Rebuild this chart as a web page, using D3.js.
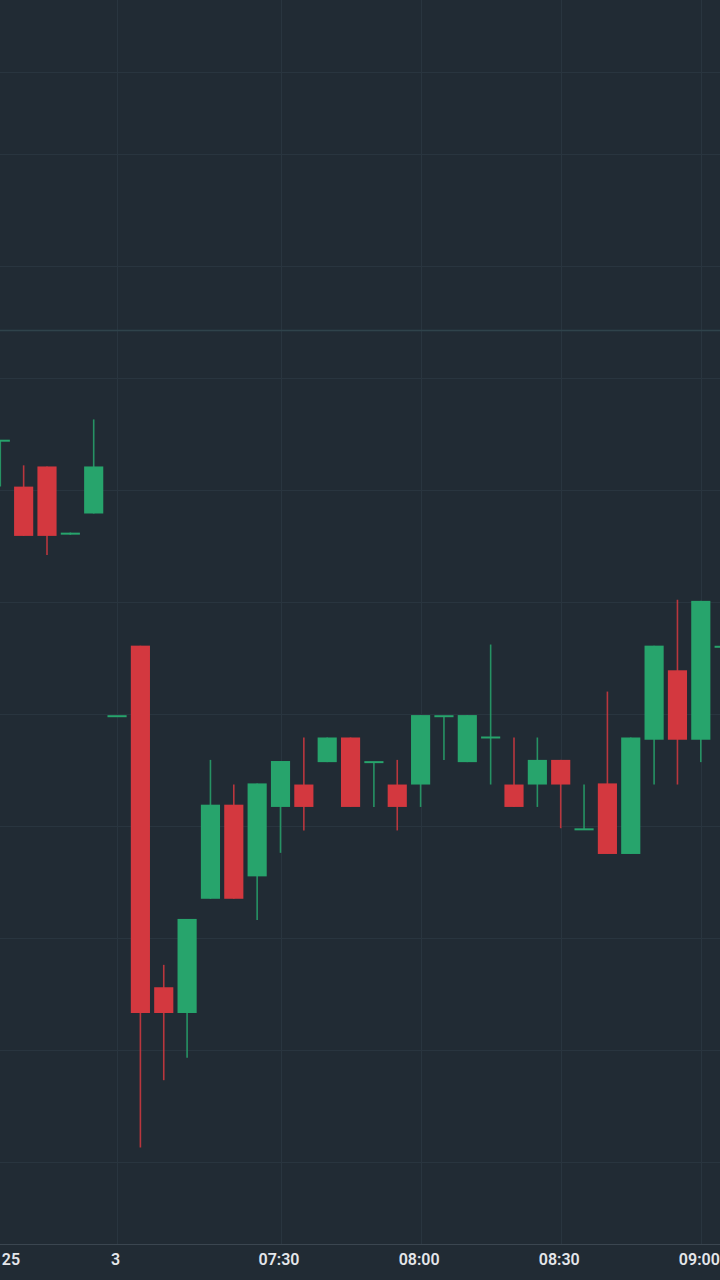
<!DOCTYPE html>
<html>
<head>
<meta charset="utf-8">
<script src="https://cdn.jsdelivr.net/npm/d3@7"></script>
<style>
  html, body { margin: 0; padding: 0; background: #212b34; }
  svg { display: block; }
</style>
</head>
<body>
<div id="container"></div>
<script>
/* CONSTANTS AND GLOBALS */
const width = 720,
  height = 1280,
  axisY = 1244;

// 5-minute candles, one per slot (index based time axis)
const opens  = [101.43, 101.03, 101.21, 100.61, 100.79, 98.98, 99.61, 96.56, 96.33, 97.35, 98.19, 97.55, 98.17, 98.37, 98.57, 98.79, 98.57, 98.37, 98.37, 98.98, 98.57, 98.79, 98.37, 98.37, 98.59, 97.97, 98.38, 97.75, 98.77, 99.39, 98.77, 99.60];
const highs  = [101.44, 101.22, 101.21, 100.62, 101.63, 98.98, 99.61, 96.76, 97.17, 98.59, 98.37, 98.38, 98.58, 98.79, 98.79, 98.79, 98.57, 98.59, 98.99, 98.98, 98.99, 99.62, 98.79, 98.79, 98.59, 98.37, 99.20, 98.79, 99.61, 100.02, 100.01, 99.60];
const lows   = [101.03, 100.59, 100.42, 100.60, 100.79, 98.98, 95.13, 95.73, 95.93, 97.35, 97.35, 97.16, 97.76, 97.96, 98.57, 98.17, 98.17, 97.96, 98.17, 98.59, 98.57, 98.37, 98.17, 98.17, 97.98, 97.97, 97.75, 97.75, 98.37, 98.37, 98.57, 99.60];
const closes = [101.44, 100.59, 100.59, 100.61, 101.21, 98.98, 96.33, 96.33, 97.17, 98.19, 97.35, 98.38, 98.58, 98.17, 98.79, 98.17, 98.57, 98.17, 98.99, 98.98, 98.99, 98.79, 98.17, 98.59, 98.37, 97.97, 97.75, 98.79, 99.61, 98.77, 100.01, 99.60];

// time axis labels (placed at candle slots)
const tickSlots  = [0, 5, 12, 18, 24, 30];
const tickLabels = ["25", "3", "07:30", "08:00", "08:30", "09:00"];

// extra horizontal level lines seen on the chart
const levels = [104.73, 102.43];

const candles = opens.map((o, i) => ({
  i, open: o, high: highs[i], low: lows[i], close: closes[i]
}));

/* SCALES */
const xScale = d3.scaleLinear()
  .domain([0, 30])
  .range([0.3, 700.8]);

const yScale = d3.scaleLinear()
  .domain([93.946, 105.375])
  .range([height, 0]);

const slotW = xScale(1) - xScale(0),
  bodyW = slotW * 0.82;

const green = "#27a46c",
  red = "#d3383f";
const colorOf = d => d.close >= d.open ? green : red;

/* SVG */
const svg = d3.select("#container").append("svg")
  .attr("width", width)
  .attr("height", height)
  .style("background", "#212b34");

// grid
const grid = svg.append("g").attr("class", "grid");

grid.selectAll("line.hgrid")
  .data(yScale.ticks(12).filter(v => yScale(v) < axisY && v < levels[0]))
  .join("line")
  .attr("class", "hgrid")
  .attr("x1", 0).attr("x2", width)
  .attr("y1", d => Math.round(yScale(d)) + 0.5)
  .attr("y2", d => Math.round(yScale(d)) + 0.5)
  .attr("stroke", "#29353f")
  .attr("stroke-width", 1);

grid.selectAll("line.vgrid")
  .data(tickSlots.slice(1))
  .join("line")
  .attr("class", "vgrid")
  .attr("x1", d => Math.round(xScale(d)) + 0.5)
  .attr("x2", d => Math.round(xScale(d)) + 0.5)
  .attr("y1", 0).attr("y2", axisY)
  .attr("stroke", "#29353f")
  .attr("stroke-width", 1);

grid.selectAll("line.level")
  .data(levels)
  .join("line")
  .attr("class", "level")
  .attr("x1", 0).attr("x2", width)
  .attr("y1", d => Math.round(yScale(d)) + 0.5)
  .attr("y2", d => Math.round(yScale(d)) + 0.5)
  .attr("stroke", (d, i) => i === 1 ? "#2f434b" : "#29353f")
  .attr("stroke-width", (d, i) => i === 1 ? 1.5 : 1);

/// draw candles
const candle = svg.append("g").attr("class", "candles")
  .selectAll("g.candle")
  .data(candles)
  .join("g")
  .attr("class", "candle")
  .attr("transform", d => `translate(${xScale(d.i)},0)`);

// wicks
candle.append("line")
  .attr("x1", 0).attr("x2", 0)
  .attr("y1", d => yScale(d.high))
  .attr("y2", d => yScale(d.low))
  .attr("stroke", colorOf)
  .attr("stroke-opacity", 0.85)
  .attr("stroke-width", 1.6);

// bodies (at least 2px tall so dojis show as a dash)
candle.append("rect")
  .attr("x", -bodyW / 2)
  .attr("width", bodyW)
  .attr("y", d => Math.min(yScale(d.open), yScale(d.close)) - (Math.abs(yScale(d.open) - yScale(d.close)) < 2 ? 1 : 0))
  .attr("height", d => Math.max(2, Math.abs(yScale(d.open) - yScale(d.close))))
  .attr("fill", colorOf);

/* TIME AXIS */
svg.append("line")
  .attr("x1", 0).attr("x2", width)
  .attr("y1", axisY + 0.5).attr("y2", axisY + 0.5)
  .attr("stroke", "#3b4650");

const xAxis = d3.axisBottom(xScale)
  .tickValues(tickSlots)
  .tickFormat((d, i) => tickLabels[i])
  .tickSize(0)
  .tickPadding(10);

const axisG = svg.append("g")
  .attr("transform", `translate(0,${axisY})`)
  .call(xAxis);

axisG.select(".domain").remove();
axisG.selectAll("text")
  .attr("fill", "#e4e6ea")
  .attr("font-family", "Roboto, 'Open Sans', sans-serif")
  .attr("font-size", 16)
  .attr("font-weight", 600)
  .attr("text-anchor", (d, i) => i === 0 ? "start" : "middle")
  .attr("x", (d, i) => i === 0 ? 1 : -2);
</script>
</body>
</html>
